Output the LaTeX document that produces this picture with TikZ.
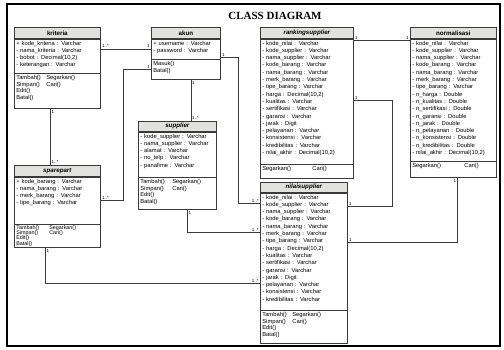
\documentclass[tikz,border=0pt]{standalone}
\usepackage{fontspec}
\setmainfont{Liberation Sans}
\newfontfamily\titleserif{Liberation Serif}
\usepackage{xcolor}
\usetikzlibrary{positioning}
\definecolor{boxline}{HTML}{3A3A3A}
\definecolor{headfill}{HTML}{E1E1DE}

\begin{document}
\begin{tikzpicture}[
  x=1pt, y=-1pt,
  head/.style={rectangle, draw=boxline, line width=0.7pt, fill=headfill, anchor=north west, inner sep=0pt, minimum height=11pt, font=\fontsize{6.2}{7}\selectfont\bfseries},
  attr/.style={rectangle, draw=boxline, line width=0.7pt, fill=white, align=left, inner xsep=2pt, inner ysep=1.5pt, text height=4.5pt, font=\fontsize{5.8}{7.3}\selectfont},
  meth/.style={attr, font=\fontsize{5.8}{6.6}\selectfont},
  link/.style={draw=boxline, line width=0.7pt},
  lbl/.style={font=\fontsize{4.5}{5}\selectfont, inner sep=1pt},
  frame/.style={line width=2.6pt},
  title/.style={font=\titleserif\bfseries\fontsize{11}{12}\selectfont}
]
\useasboundingbox (0,0) rectangle (504,349);
\draw[frame] (7,4) rectangle (500,346);
\node[title] (ttl) at (275,16) {CLASS DIAGRAM};

\node[head, minimum width=86pt] (krit) at (14,27) {kriteria};
\node[attr, text width=82pt, text depth=26.5pt, below=0pt of krit] (krit-a) {+ kode\_kriteria : Varchar\\- nama\_kriteria : Varchar\\- bobot : Decimal(10,2)\\- keterangan : Varchar};
\node[meth, text width=82pt, text depth=27.5pt, below=0pt of krit-a] (krit-m) {\makebox[30pt][l]{Tambah()}Segarkan()\\\makebox[30pt][l]{Simpan()}Cari()\\Edit()\\Batal()};

\node[head, minimum width=69pt] (akun) at (151,27) {akun};
\node[attr, text width=65pt, text depth=12.5pt, below=0pt of akun] (akun-a) {+ username : Varchar\\- password : Varchar};
\node[meth, text width=65pt, text depth=12.5pt, below=0pt of akun-a] (akun-m) {Masuk()\\Batal()};

\node[head, minimum width=78pt, minimum height=10pt, font=\fontsize{6.2}{7}\selectfont\bfseries\itshape] (supp) at (138,121) {supplier};
\node[attr, text width=74pt, text depth=37.5pt, below=0pt of supp] (supp-a) {- kode\_supplier : Varchar\\- nama\_supplier : Varchar\\- alamat : Varchar\\- no\_telp : Varchar\\- panafime : Varchar};
\node[meth, text width=74pt, text depth=24.5pt, below=0pt of supp-a] (supp-m) {\makebox[32pt][l]{Tambah()}Segarkan()\\\makebox[32pt][l]{Simpan()}Cari()\\Edit()\\Batal()};

\node[head, minimum width=86pt, font=\fontsize{6.2}{7}\selectfont\bfseries\itshape] (spare) at (14,165) {sparepart};
\node[attr, text width=82pt, text depth=39.5pt, below=0pt of spare] (spare-a) {+ kode\_barang : Varchar\\- nama\_barang : Varchar\\- merk\_barang : Varchar\\- tipe\_barang : Varchar};
\node[meth, text width=82pt, inner ysep=0.5pt, text height=4pt, text depth=18pt, font=\fontsize{5.4}{5.3}\selectfont, below=0pt of spare-a] (spare-m) {\makebox[33pt][l]{Tambah()}Segarkan()\\\makebox[33pt][l]{Simpan()}Cari()\\Edit()\\Batal()};

\node[head, minimum width=93pt, font=\fontsize{6.2}{7}\selectfont\bfseries\itshape] (rank) at (260,27) {rankingsupplier};
\node[attr, text width=89pt, text depth=117.5pt, below=0pt of rank] (rank-a) {- kode\_nilai : Varchar\\- kode\_supplier : Varchar\\- nama\_supplier : Varchar\\- kode\_barang : Varchar\\- nama\_barang : Varchar\\- merk\_barang : Varchar\\- tipe\_barang : Varchar\\- harga : Decimal(10,2)\\- kualitas : Varchar\\- sertifikasi : Varchar\\- garansi : Varchar\\- jarak : Digit\\- pelayanan : Varchar\\- konsistensi : Varchar\\- kredibilitas : Varchar\\- nilai\_akhir : Decimal(10,2)};
\node[meth, text width=89pt, text depth=6.5pt, below=0pt of rank-a] (rank-m) {\makebox[50pt][l]{Segarkan()}Cari()};

\node[head, minimum width=86pt] (norm) at (410,27) {normalisasi};
\node[attr, text width=82pt, text depth=114.5pt, below=0pt of norm] (norm-a) {- kode\_nilai : Varchar\\- kode\_supplier : Varchar\\- nama\_supplier : Varchar\\- kode\_barang : Varchar\\- nama\_barang : Varchar\\- merk\_barang : Varchar\\- tipe\_barang : Varchar\\- n\_harga : Double\\- n\_kualitas : Double\\- n\_sertifikasi : Double\\- n\_garansi : Double\\- n\_jarak : Double\\- n\_pelayanan : Double\\- n\_konsistensi : Double\\- n\_kredibilitas : Double\\- nilai\_akhir : Decimal(10,2)};
\node[meth, text width=82pt, text depth=8.5pt, below=0pt of norm-a] (norm-m) {\makebox[52pt][l]{Segarkan()}Cari()};

\node[head, minimum width=87pt, minimum height=10pt, font=\fontsize{6.2}{7}\selectfont\bfseries\itshape] (nilai) at (260,182) {nilaisupplier};
\node[attr, text width=83pt, text depth=109.5pt, below=0pt of nilai] (nilai-a) {- kode\_nilai : Varchar\\- kode\_supplier : Varchar\\- nama\_supplier : Varchar\\- kode\_barang : Varchar\\- nama\_barang : Varchar\\- merk\_barang : Varchar\\- tipe\_barang : Varchar\\- harga : Decimal(10,2)\\- kualitas : Varchar\\- sertifikasi : Varchar\\- garansi : Varchar\\- jarak : Digit\\- pelayanan : Varchar\\- konsistensi : Varchar\\- kredibilitas : Varchar};
\node[meth, text width=83pt, text depth=25.5pt, below=0pt of nilai-a] (nilai-m) {\makebox[30pt][l]{Tambah()}Segarkan()\\\makebox[30pt][l]{Simpan()}Cari()\\Edit()\\Batal()};

\draw[link] (krit-a.east |- akun-a.west) node[lbl, anchor=south west] {1..*} -- (akun-a.west) node[lbl, anchor=south east] {1};
\draw[link] ([yshift=2pt]akun-a.south east) node[lbl, anchor=south west] {1} -- ++(18,0) |- ([yshift=-11pt]nilai-a.north west) node[lbl, anchor=south east] {1..*};
\draw[link] ([xshift=5pt]akun-m.south) node[lbl, anchor=north west] {1} -- ([xshift=5pt]akun-m.south |- supp.north) node[lbl, anchor=south west] {1..*};
\draw[link] ([xshift=-7pt]krit-m.south) node[lbl, anchor=north west] {1} -- ([xshift=-7pt]krit-m.south |- spare.north) node[lbl, anchor=south west] {1..*};
\draw[link] (akun-m.west) node[lbl, anchor=south east] {1} -- ++(-28,0) |- (spare-a.east) node[lbl, anchor=south west] {1..*};
\draw[link] ([xshift=-12pt]spare-m.south) node[lbl, anchor=north west] {1} |- ([yshift=27pt]nilai-a.south west) node[lbl, anchor=south east] {1..*};
\draw[link] ([xshift=10pt]supp-m.south) node[lbl, anchor=north west] {1} |- ([yshift=-40pt]nilai-a.north west) node[lbl, anchor=south east] {1..*};
\draw[link] ([yshift=-2pt]rank-a.north east) node[lbl, anchor=south west] {1} -- ([yshift=-2pt]norm-a.north west) node[lbl, anchor=south east] {1};
\draw[link] ([yshift=-62pt]rank-a.north east) node[lbl, anchor=south west] {1} -- ++(39,0) |- ([yshift=-14pt]nilai-a.north east) node[lbl, anchor=south west] {1};
\draw[link] ([xshift=4pt]norm-m.south) node[lbl, anchor=north east] {1} |- ([yshift=-50pt]nilai-a.north east) node[lbl, anchor=south west] {1};
\end{tikzpicture}
\end{document}
